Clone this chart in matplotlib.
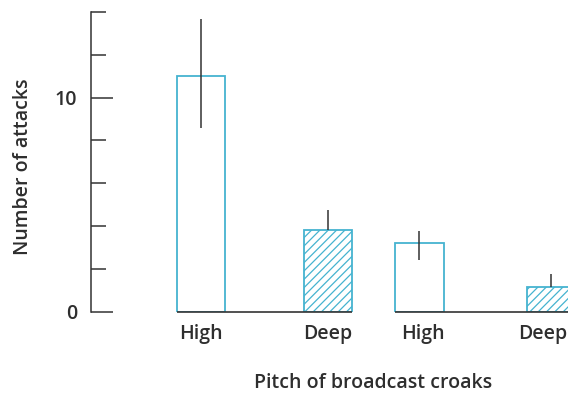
import matplotlib
matplotlib.use("Agg")
import matplotlib.pyplot as plt
import matplotlib.transforms as mtransforms
import numpy as np

plt.rcParams['font.family'] = ['Open Sans', 'DejaVu Sans']
plt.rcParams['hatch.color'] = '#86cfe2'
plt.rcParams['hatch.linewidth'] = 0.9

# Data
categories = ["High", "Deep", "High", "Deep"]
values = [11.0, 3.8, 3.2, 1.15]
err_up = [2.65, 0.95, 0.55, 0.6]
err_down = [2.4, 0.0, 0.8, 0.0]
hatched = [False, True, False, True]

# Layout (positions in bar-spacing units)
positions = np.array([0.0, 1.0, 1.72, 2.76])
width = 0.38
edge = '#45b3d0'
textc = '#2e2e2e'
fs = 14

fig = plt.figure(figsize=(5.68, 3.95), dpi=100)
ax = fig.add_axes([91/568, (395-311.7)/395, 1 - 91/568, 299.7/395])

for x, v, h in zip(positions, values, hatched):
    ax.bar(x, v, width=width, facecolor='white', edgecolor=edge,
           linewidth=1.3, hatch='////' if h else None, zorder=2)

ax.errorbar(positions, values, yerr=[err_down, err_up], fmt='none',
            ecolor='#333333', elinewidth=1.1, capsize=0, zorder=3)

# baseline segments under each pair
for i in (0, 2):
    ax.plot([positions[i] - width/2, positions[i+1] + width/2], [0, 0],
            color='#333333', lw=1.2, zorder=4, clip_on=False, solid_capstyle='butt')

ax.set_xlim(-0.866, 2.89)
ax.set_ylim(0, 14)
for s in ('top', 'right', 'bottom'):
    ax.spines[s].set_visible(False)
ax.spines['left'].set_color('#333333')
ax.spines['left'].set_linewidth(1.1)

ax.set_yticks([0, 10])
ax.set_yticks([2, 4, 6, 8, 12, 14], minor=True)
ax.tick_params(axis='y', which='major', direction='in', length=16, width=1.1,
               color='#333333', labelsize=fs, labelcolor=textc, pad=10)
ax.tick_params(axis='y', which='minor', direction='in', length=11, width=1.1,
               color='#333333')
for t in ax.get_yticklabels():
    t.set_fontweight('semibold')
ax.set_xticks(positions)
ax.set_xticklabels(categories, fontweight='semibold')
ax.tick_params(axis='x', length=0, labelsize=fs, labelcolor=textc, pad=9)

# nudge labels of the second pair as in the original
offsets_px = [0, 0, 4, -9]
for lab, dx in zip(ax.get_xticklabels(), offsets_px):
    lab.set_transform(lab.get_transform() +
                      mtransforms.ScaledTranslation(dx / 100, 0, fig.dpi_scale_trans))

ax.set_ylabel("Number of attacks", fontsize=fs, color=textc, fontweight='semibold')
ax.yaxis.set_label_coords(-(91 - 33) / 477, 0.485)
ax.set_xlabel("Pitch of broadcast croaks", fontsize=fs, color=textc, fontweight='semibold')
ax.xaxis.set_label_coords((373 - 91) / 477, -(373 - 311.7) / 299.7)

fig.savefig("out.png", dpi=100)
